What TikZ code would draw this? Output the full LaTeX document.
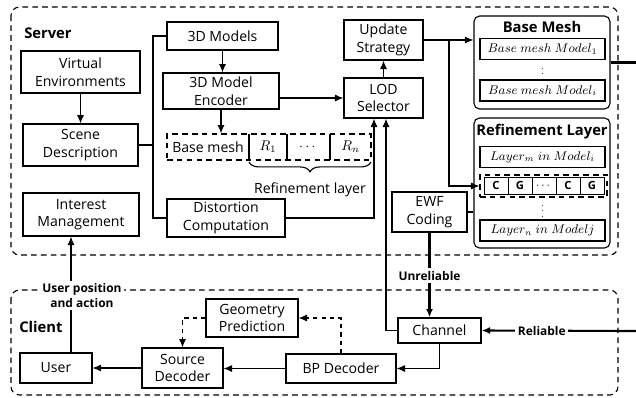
\documentclass[tikz,border=0pt]{standalone}
\usepackage{fontspec}
\setmainfont{Open Sans}
\usepackage{amsmath}
\usetikzlibrary{arrows.meta,decorations.pathreplacing,positioning}

\begin{document}
\begin{tikzpicture}[x=0.025cm,y=-0.025cm,>={Latex[length=6pt,width=5pt]},
  box/.style={draw,line width=0.8pt,align=center,inner sep=0pt,font=\fontsize{10}{12.5}\selectfont},
  grp/.style={draw,line width=0.8pt,rounded corners=4pt},
  item/.style={draw,line width=1.1pt,inner sep=0pt,minimum width=3.125cm,minimum height=0.53cm,font=\fontsize{9.2}{10}\selectfont},
  cell/.style={draw,line width=0.6pt,inner sep=0pt,minimum width=0.6cm,minimum height=0.425cm,font=\bfseries\fontsize{8}{9}\selectfont},
  zone/.style={line width=0.8pt,rounded corners=6pt,dash pattern=on 4pt off 3pt},
  link/.style={line width=0.8pt},
  heavy/.style={line width=1.5pt},
  vdot/.style={inner sep=0pt,font=\fontsize{6}{6}\selectfont},
  tag/.style={fill=white,font=\bfseries\fontsize{8.5}{10.5}\selectfont,align=center,inner sep=2pt}]

\useasboundingbox (0,0) rectangle (636,397);

% areas
\draw[zone] (11,7) rectangle (618,255);
\draw[zone] (11,290) rectangle (618,395);
\node[font=\bfseries\fontsize{10.5}{12}\selectfont,anchor=west,inner sep=0pt] (srvlbl) at (24,33) {Server};
\node[font=\bfseries\fontsize{10.5}{12}\selectfont,anchor=west,inner sep=0pt] (clilbl) at (19,327) {Client};

% server side
\node[box,minimum width=2.975cm,minimum height=1.05cm] (venv) at (80.5,72) {Virtual\\Environments};
\node[box,minimum width=2.875cm,minimum height=1.05cm] (sdesc) at (80.5,145) {Scene\\Description};
\node[box,minimum width=2.9cm,minimum height=1.075cm] (imgmt) at (81,214.5) {Interest\\Management};
\node[box,minimum width=2.775cm,minimum height=0.7cm] (models) at (222.5,36) {3D Models};
\node[box,minimum width=2.9cm,minimum height=0.9cm] (enc) at (221,91) {3D Model\\Encoder};
\node[box,minimum width=2.95cm,minimum height=0.95cm] (dist) at (226,218) {Distortion\\Computation};
\node[box,minimum width=1.975cm,minimum height=1cm] (lod) at (383.5,98) {LOD\\Selector};
\node[box,minimum width=1.975cm,minimum height=1cm] (upd) at (383.5,40) {Update\\Strategy};
\node[box,minimum width=1.875cm,minimum height=1cm] (ewf) at (429.5,212) {EWF\\Coding};

% base mesh + refinement row
\node[draw,line width=0.8pt,dash pattern=on 4pt off 3pt,minimum width=5.1cm,minimum height=0.65cm] (lodrow) at (269,147) {};
\node[font=\fontsize{10}{12}\selectfont] (bmtxt) at (208,147) {Base mesh};
\node (rone) at (268,147) {$R_1$};
\node (rdots) at (308.5,147) {$\cdots$};
\node (rlast) at (350.5,147) {$R_n$};
\foreach \x in {249,287,330}
  \draw[link] (\x,134) -- (\x,160);
\draw[link,decorate,decoration={brace,mirror,amplitude=7pt}] (249,162) -- (371,162);
\node[font=\fontsize{10}{12}\selectfont] (reflbl) at (310,190) {Refinement layer};

% stored data
\node[grp,minimum width=3.4cm,minimum height=2.325cm] (bmesh) at (542,62.5) {};
\node[font=\bfseries\fontsize{10.5}{12}\selectfont] (bmttl) at (542,27) {Base Mesh};
\node[item] (bmone) at (542.5,49) {$Base\ mesh\ Model_1$};
\node[vdot] (bmdots) at (542.5,70) {$\vdots$};
\node[item] (bmlast) at (542.5,90.5) {$Base\ mesh\ Model_i$};

\node[grp,minimum width=3.4cm,minimum height=3.25cm] (reflay) at (542,183) {};
\node[font=\bfseries\fontsize{10.5}{12}\selectfont] (rlttl) at (542,132) {Refinement Layer};
\node[item] (laym) at (542.5,157) {$Layer_m\ in\ Model_i$};
\node[draw,line width=0.8pt,dash pattern=on 4pt off 3pt,minimum width=3.175cm,minimum height=0.55cm] (cgrow) at (543.5,186) {};
\foreach \t [count=\i] in {C,G,$\cdots$,C,G}
  \node[cell] (cg\i) at ({472+24*\i},185.5) {\t};
\node[vdot] (rldots) at (542.5,207) {$\vdots$};
\node[item] (layn) at (542.5,230.5) {$Layer_n\ in\ Modelj$};

% client side
\node[box,minimum width=1.8cm,minimum height=0.75cm] (user) at (56,368) {User};
\node[box,minimum width=2.025cm,minimum height=1cm] (src) at (182.5,368) {Source\\Decoder};
\node[box,minimum width=2.3cm,minimum height=0.95cm] (geo) at (252,318) {Geometry\\Prediction};
\node[box,minimum width=2.75cm,minimum height=0.725cm] (bp) at (341,368.5) {BP Decoder};
\node[box,minimum width=2.075cm,minimum height=0.625cm] (chan) at (439.5,330.5) {Channel};

% connectors
\coordinate (trunk) at (153,145);
\coordinate (split) at (449,40);
\coordinate (uplink) at (71,0);
\coordinate (relin) at (636,331);
\coordinate (bmout) at (636,62.5);
\draw[link,->] (venv) -- (sdesc);
\draw[link] (sdesc.east) -- (trunk);
\draw[link] (models.west) -| (trunk) |- (dist.west);
\draw[link,->] (models.south) -- (models.south |- enc.north);
\draw[link,->] (enc.south) -- (enc.south |- lodrow.north);
\draw[link,->] (enc.east |- lod.west) -- (lod.west);
\draw[link,->] (dist.east) -| ([xshift=-0.2375cm]lod.south);
\draw[link,->] (chan.west) -| ([xshift=0.0625cm]lod.south);
\draw[link,->] (lod) -- (upd);
\draw[link,->] (upd.east) -- (upd.east -| bmesh.west);
\draw[link,->] (split) |- (cgrow.west);
\draw[link] (ewf.east) -- (ewf.east -| reflay.west);
\draw[heavy] (bmesh.east) -- (bmout);
\draw[heavy,->] (ewf.south) -- (ewf.south |- chan.north) node[tag,pos=0.51] {Unreliable};
\draw[heavy,->] (relin) -- (chan.east) node[tag,pos=0.61] {Reliable};
\draw[link,->] (chan.south) |- (bp.east);
\draw[link,->] (bp.west) -- (bp.west -| src.east);
\draw[link,->] (src) -- (user);
\draw[link,dashed,->] (bp.north) |- (geo.east);
\draw[link,dashed,->] (geo.west) -| (src.north);
\draw[link,->] (user.north -| uplink) -- (imgmt.south -| uplink)
  node[tag,pos=0.49,xshift=0.275cm] {User position\\and action};
\end{tikzpicture}
\end{document}
